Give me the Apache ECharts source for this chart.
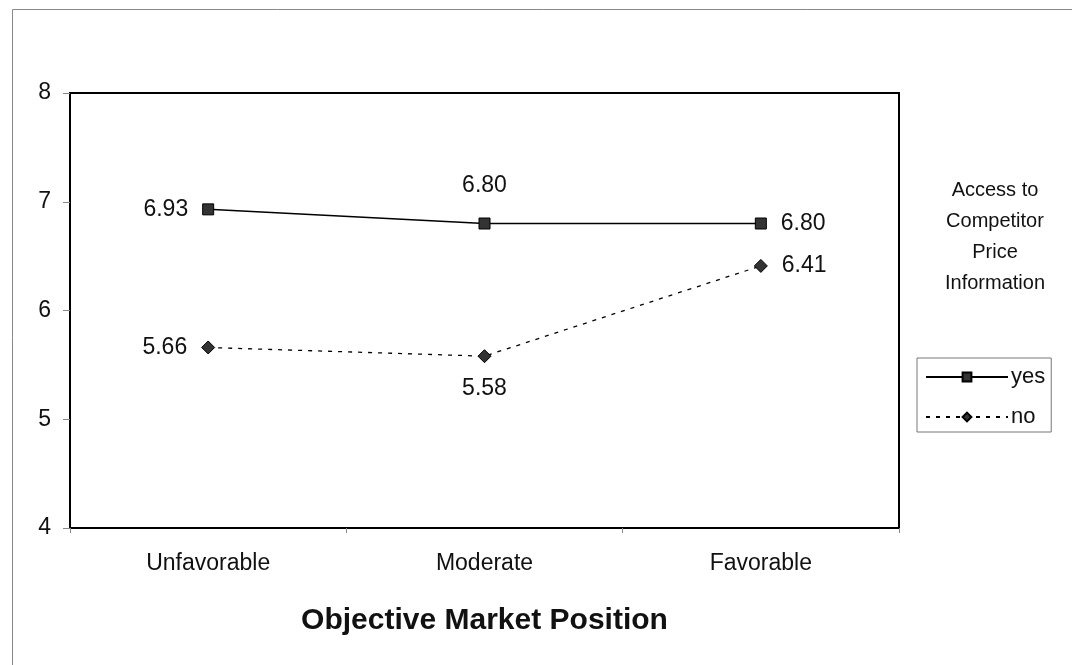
<!DOCTYPE html>
<html>
<head>
<meta charset="utf-8">
<script src="https://cdn.jsdelivr.net/npm/echarts@6/dist/echarts.min.js"></script>
<style>
  html, body { margin: 0; padding: 0; background: #fff; }
  #chart { width: 1072px; height: 665px; }
</style>
</head>
<body>
<div id="chart"></div>
<script>
// Market position categories and mean scores per access group
const categories = ['Unfavorable', 'Moderate', 'Favorable'];
const yesValues = [6.93, 6.80, 6.80];
const noValues = [5.66, 5.58, 6.41];
const yesLabelPos = ['left', 'top', 'right'];
const noLabelPos = ['left', 'bottom', 'right'];
const yTicks = [4, 5, 6, 7, 8];
const legendTitle = 'Access to\nCompetitor\nPrice\nInformation';
const xTitle = 'Objective Market Position';

const FONT = '"Liberation Sans", Arial, sans-serif';

function withLabels(values, positions) {
  return values.map((v, i) => ({
    value: v,
    label: { position: positions[i], distance: positions[i] === 'top' ? 20 : 14 }
  }));
}

const chart = echarts.init(document.getElementById('chart'), null, { renderer: 'canvas' });

chart.setOption({
  animation: false,
  backgroundColor: '#fff',
  textStyle: { fontFamily: FONT },
  grid: { left: 70, top: 93, width: 829, height: 435, show: true, borderColor: '#000', borderWidth: 2, backgroundColor: 'transparent' },
  xAxis: {
    type: 'category',
    data: categories,
    boundaryGap: true,
    axisLine: { lineStyle: { color: '#000', width: 2 } },
    axisTick: { show: true, length: 5, lineStyle: { color: '#888' } },
    axisLabel: { color: '#111', fontSize: 23, fontFamily: FONT, margin: 24 },
    name: xTitle,
    nameLocation: 'middle',
    nameGap: 78,
    nameTextStyle: { color: '#111', fontSize: 30, fontWeight: 'bold', fontFamily: FONT }
  },
  yAxis: {
    type: 'value',
    min: yTicks[0],
    max: yTicks[yTicks.length - 1],
    interval: 1,
    axisLine: { show: true, lineStyle: { color: '#000', width: 2 } },
    axisTick: { show: true, length: 7, lineStyle: { color: '#888' } },
    axisLabel: { color: '#111', fontSize: 23, fontFamily: FONT, margin: 19 },
    splitLine: { show: false }
  },
  legend: {
    orient: 'vertical',
    left: 917,
    top: 358,
    itemWidth: 82,
    itemHeight: 11,
    itemGap: 18,
    padding: [8, 6, 4, 8],
    borderColor: '#777',
    borderWidth: 1,
    textStyle: { color: '#111', fontSize: 22, fontFamily: FONT, padding: [0, 0, 0, -2] },
    data: ['yes', 'no']
  },
  graphic: [
    {
      type: 'rect',
      shape: { x: 12.5, y: 9.5, width: 1100, height: 700 },
      style: { fill: 'none', stroke: '#888', lineWidth: 1 },
      silent: true
    },
    {
      type: 'text',
      x: 995,
      y: 175,
      style: {
        text: legendTitle,
        fill: '#111',
        font: '20px ' + FONT,
        align: 'center',
        verticalAlign: 'top',
        lineHeight: 31
      }
    }
  ],
  series: [
    {
      name: 'yes',
      type: 'line',
      data: withLabels(yesValues, yesLabelPos),
      symbol: 'rect',
      symbolSize: 11,
      lineStyle: { color: '#000', width: 1.5, type: 'solid' },
      itemStyle: { color: '#333', borderColor: '#000', borderWidth: 1 },
      label: {
        show: true, color: '#111', fontSize: 23, fontFamily: FONT,
        formatter: p => p.value.toFixed(2)
      }
    },
    {
      name: 'no',
      type: 'line',
      data: withLabels(noValues, noLabelPos),
      symbol: 'diamond',
      symbolSize: 13,
      lineStyle: { color: '#000', width: 1.3, type: [4, 6] },
      itemStyle: { color: '#333', borderColor: '#000', borderWidth: 1 },
      label: {
        show: true, color: '#111', fontSize: 23, fontFamily: FONT,
        formatter: p => p.value.toFixed(2)
      }
    }
  ]
});
</script>
</body>
</html>
